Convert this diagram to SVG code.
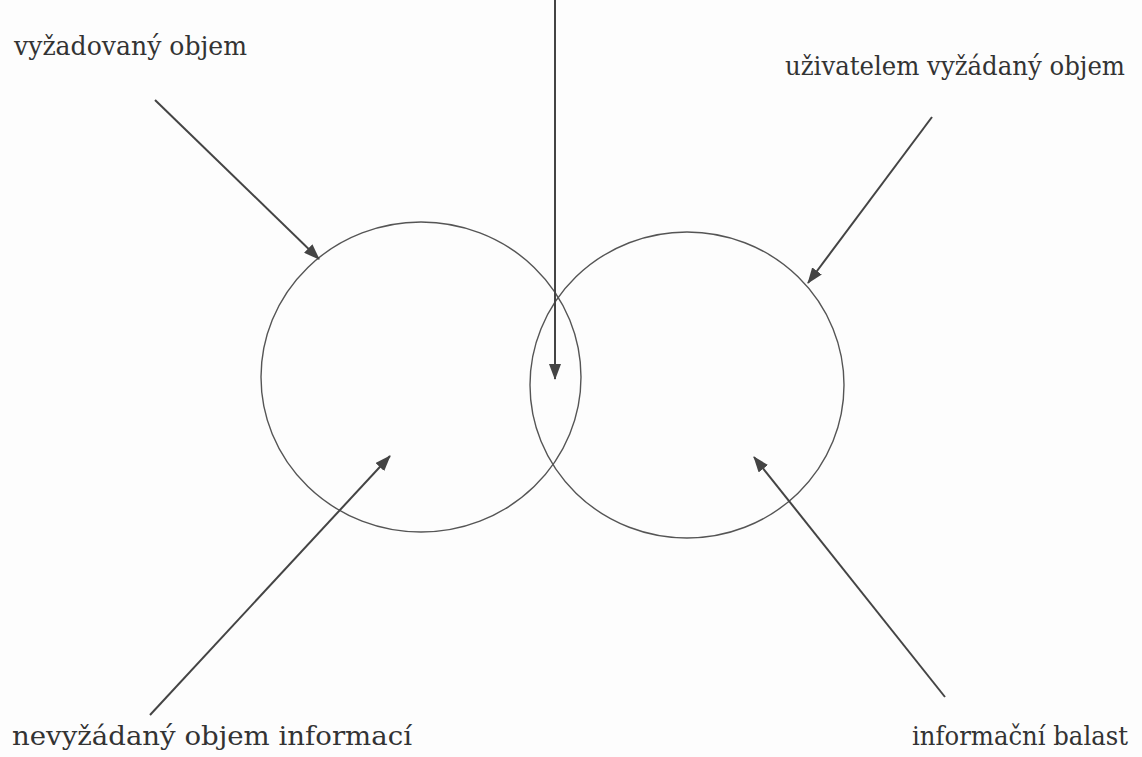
<svg xmlns="http://www.w3.org/2000/svg" width="1142" height="757" viewBox="0 0 1142 757">
  <style>
    .lbl { font-family: 'DejaVu Serif', 'Liberation Serif', serif; font-size: 25.5px; fill: #333; }
    .set { fill: none; stroke: #555; stroke-width: 1.4; }
    .arr { fill: none; stroke: #444; stroke-width: 2; marker-end: url(#ah); }
  </style>
  <defs>
    <marker id="ah" viewBox="0 0 16 12" refX="15" refY="6" markerWidth="16" markerHeight="12" markerUnits="userSpaceOnUse" orient="auto">
      <path d="M0,0 L16,6 L0,12 Z" fill="#444"/>
    </marker>
  </defs>
  <rect width="1142" height="757" fill="#fdfdfd"/>
  <g id="circle-left"><ellipse class="set" cx="421" cy="377" rx="160" ry="155"/></g>
  <g id="circle-right"><ellipse class="set" cx="687" cy="385" rx="157" ry="153"/></g>
  <g id="label-required"><text class="lbl" x="14" y="55" textLength="233" lengthAdjust="spacingAndGlyphs">vyžadovaný objem</text></g>
  <g id="label-user-required"><text class="lbl" x="785" y="75" textLength="340" lengthAdjust="spacingAndGlyphs">uživatelem vyžádaný objem</text></g>
  <g id="label-unrequested"><text class="lbl" x="12" y="745" textLength="400" lengthAdjust="spacingAndGlyphs">nevyžádaný objem informací</text></g>
  <g id="label-ballast"><text class="lbl" x="912" y="745" textLength="216" lengthAdjust="spacingAndGlyphs">informační balast</text></g>
  <g id="connectors">
    <line class="arr" x1="555" y1="0" x2="555" y2="379"/>
    <line class="arr" x1="155" y1="100" x2="319" y2="259"/>
    <line class="arr" x1="932" y1="117" x2="808" y2="283"/>
    <line class="arr" x1="150" y1="715" x2="390" y2="456"/>
    <line class="arr" x1="945" y1="697" x2="754" y2="457"/>
  </g>
</svg>
